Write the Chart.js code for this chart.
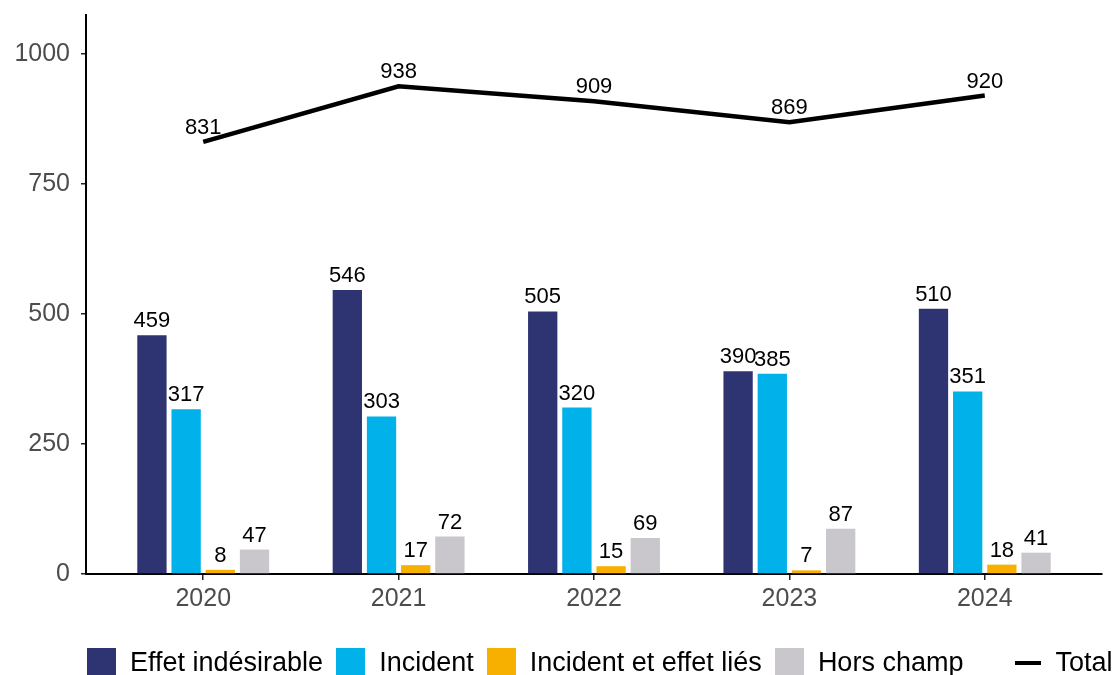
<!DOCTYPE html>
<html>
<head>
<meta charset="utf-8">
<script src="https://cdn.jsdelivr.net/npm/chart.js@4"></script>
<style>
  html, body { margin: 0; padding: 0; background: #fff; overflow: hidden; }
  #wrap { position: relative; width: 1114px; height: 675px; }
  #legend { position: absolute; left: 87px; top: 648px; display: flex; align-items: center;
            font-family: "Liberation Sans", Arial, sans-serif; font-size: 27px; color: #000; white-space: nowrap; }
  .box { width: 29px; height: 29px; flex: none; }
  .txt { margin-left: 14px; margin-right: 13px; line-height: 29px; }
  .ln { width: 26px; height: 4px; background: #000; margin-left: 39px; flex: none; }
</style>
</head>
<body>
<div id="wrap">
  <canvas id="c" width="1114" height="675"></canvas>
  <div id="legend"></div>
</div>
<script>
const years = ['2020', '2021', '2022', '2023', '2024'];
const effetIndesirable = [459, 546, 505, 390, 510];
const incident = [317, 303, 320, 385, 351];
const incidentEffetLies = [8, 17, 15, 7, 18];
const horsChamp = [47, 72, 69, 87, 41];
const total = [831, 938, 909, 869, 920];
const yTicks = [0, 250, 500, 750, 1000];

const toXY = arr => arr.map((v, i) => ({ x: i, y: v }));

const FONT = '"Liberation Sans", Arial, sans-serif';

const valueLabels = {
  id: 'valueLabels',
  afterDatasetsDraw(chart) {
    const ctx = chart.ctx;
    ctx.save();
    ctx.font = '22px ' + FONT;
    ctx.fillStyle = '#000';
    ctx.textAlign = 'center';
    ctx.textBaseline = 'alphabetic';
    chart.data.datasets.forEach((ds, di) => {
      const meta = chart.getDatasetMeta(di);
      meta.data.forEach((el, i) => {
        ctx.fillText(String(ds.data[i].y), el.x, el.y - 8);
      });
    });
    ctx.restore();
  }
};

const chart = new Chart(document.getElementById('c'), {
  type: 'bar',
  data: {
    datasets: [
      { type: 'line', label: 'Total', data: toXY(total), borderColor: '#000', backgroundColor: '#000',
        borderWidth: 4.5, pointRadius: 0, tension: 0, order: 0 },
      { label: 'Effet indésirable', data: toXY(effetIndesirable), backgroundColor: '#2E3471', order: 1 },
      { label: 'Incident', data: toXY(incident), backgroundColor: '#00B1EA', order: 1 },
      { label: 'Incident et effet liés', data: toXY(incidentEffetLies), backgroundColor: '#F8B000', order: 1 },
      { label: 'Hors champ', data: toXY(horsChamp), backgroundColor: '#C9C6CC', order: 1 }
    ]
  },
  options: {
    responsive: false,
    animation: false,
    devicePixelRatio: 1,
    categoryPercentage: 0.70,
    barPercentage: 0.857,
    layout: { padding: { left: 0, right: 12, top: 15, bottom: 51 } },
    plugins: { legend: { display: false }, tooltip: { enabled: false } },
    scales: {
      x: {
        type: 'linear',
        min: -0.6,
        max: 4.6,
        offset: false,
        grid: { offset: false, drawOnChartArea: false, drawTicks: true, tickLength: 6, color: '#222', lineWidth: 1.5 },
        border: { display: true, color: '#000', width: 2 },
        afterBuildTicks: s => { s.ticks = years.map((_, i) => ({ value: i })); },
        afterFit: s => { s.height = 50; s.paddingLeft = 0; s.paddingRight = 0; },
        ticks: {
          autoSkip: false, maxRotation: 0, padding: 4,
          color: '#4D4D4D', font: { size: 25, family: FONT },
          callback: v => years[v]
        }
      },
      y: {
        min: 0,
        max: 1075,
        grid: { drawOnChartArea: false, drawTicks: true, tickLength: 5, color: '#222', lineWidth: 1.5 },
        border: { display: true, color: '#000', width: 2 },
        afterBuildTicks: s => { s.ticks = yTicks.map(v => ({ value: v })); },
        afterFit: s => { s.width = 86; s.paddingTop = 0; s.paddingBottom = 0; },
        ticks: { padding: 11, color: '#4D4D4D', font: { size: 25, family: FONT }, callback: v => String(v) }
      }
    }
  },
  plugins: [valueLabels]
});

// HTML legend built from datasets
const legend = document.getElementById('legend');
const bars = chart.data.datasets.filter(d => d.type !== 'line');
bars.forEach(d => {
  const b = document.createElement('span'); b.className = 'box'; b.style.background = d.backgroundColor;
  const t = document.createElement('span'); t.className = 'txt'; t.textContent = d.label;
  legend.appendChild(b); legend.appendChild(t);
});
chart.data.datasets.filter(d => d.type === 'line').forEach(d => {
  const l = document.createElement('span'); l.className = 'ln'; l.style.background = d.borderColor;
  const t = document.createElement('span'); t.className = 'txt'; t.textContent = d.label;
  legend.appendChild(l); legend.appendChild(t);
});
</script>
</body>
</html>
